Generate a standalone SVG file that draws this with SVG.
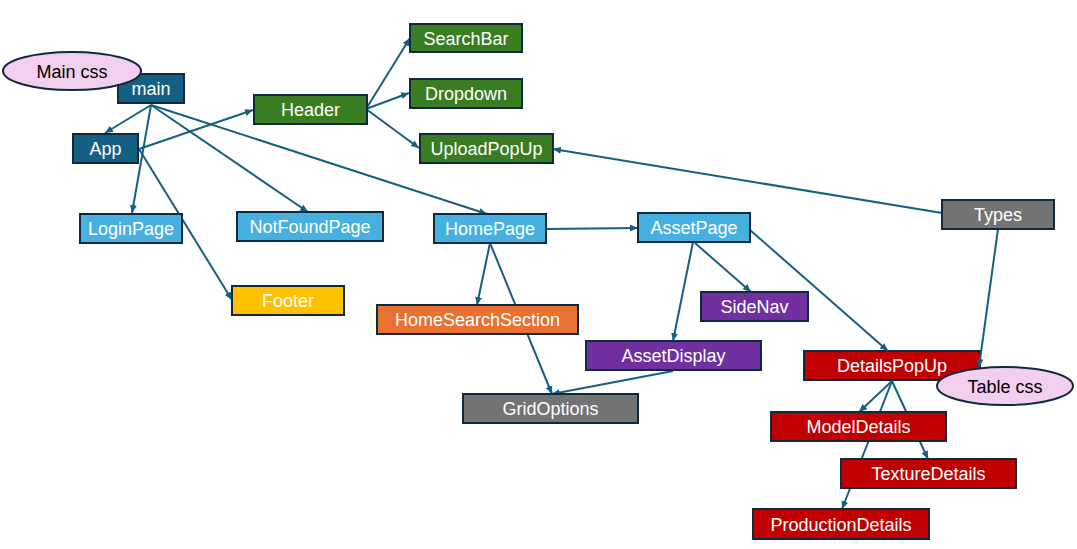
<svg xmlns="http://www.w3.org/2000/svg" width="1077" height="549" viewBox="0 0 1077 549">
<defs>
<marker id="ah" markerUnits="userSpaceOnUse" markerWidth="9" markerHeight="8" refX="8" refY="3.5" orient="auto">
<path d="M0,0 L8,3.5 L0,7 z" fill="#156082"/>
</marker>
<style>
.n rect{stroke:#0e2a3c;stroke-width:2}
.n text{font-family:"Liberation Sans",Arial,sans-serif;font-size:18px;fill:#fff;text-anchor:middle}
.e ellipse{fill:#f2cfee;stroke:#0e2a3c;stroke-width:2}
.e text{font-family:"Liberation Sans",Arial,sans-serif;font-size:18px;fill:#000;text-anchor:middle}
.c line{stroke:#156082;stroke-width:2;fill:none}
.a{marker-end:url(#ah)}
.dk{fill:#156082}.lb{fill:#46b1e1}.gr{fill:#3a7c22}.yl{fill:#ffc000}.or{fill:#e97132}.pu{fill:#7030a0}.gy{fill:#737373}.rd{fill:#c00000}
</style>
</defs>
<rect width="1077" height="549" fill="#fff"/>
<g id="DetailsPopUp" class="n"><rect class="rd" x="804" y="351" width="176" height="29"/><text x="892" y="372">DetailsPopUp</text></g>
<g id="connectors" class="c">
<line class="a" x1="151" y1="105" x2="105" y2="133"/>
<line class="a" x1="151" y1="105" x2="132" y2="213"/>
<line class="a" x1="151" y1="105" x2="308" y2="212"/>
<line class="a" x1="151" y1="105" x2="487" y2="214"/>
<line class="a" x1="139" y1="149" x2="253" y2="110"/>
<line class="a" x1="139" y1="149" x2="232" y2="300"/>
<line class="a" x1="366" y1="109" x2="410" y2="38"/>
<line class="a" x1="366" y1="109" x2="409" y2="93"/>
<line class="a" x1="366" y1="109" x2="419" y2="148"/>
<line class="a" x1="942" y1="213" x2="553" y2="149"/>
<line class="a" x1="998" y1="229" x2="979" y2="367"/>
<line class="a" x1="546" y1="229" x2="638" y2="228"/>
<line class="a" x1="490" y1="243" x2="477" y2="305"/>
<line class="a" x1="490" y1="243" x2="552" y2="394"/>
<line class="a" x1="673" y1="371" x2="552" y2="394"/>
<line class="a" x1="695" y1="243" x2="751" y2="292"/>
<line class="a" x1="693" y1="242" x2="673" y2="341"/>
<line class="a" x1="750" y1="230" x2="888" y2="351"/>
<line class="a" x1="892" y1="381" x2="859" y2="412"/>
<line class="a" x1="892" y1="381" x2="842" y2="509"/>
<line class="a" x1="892" y1="381" x2="928" y2="459"/>
</g>
<g id="main" class="n"><rect class="dk" x="118" y="74" width="66" height="29"/><text x="151" y="95">main</text></g>
<g id="MainCss" class="e"><ellipse cx="72" cy="71" rx="69" ry="19"/><text x="72" y="77.5">Main css</text></g>
<g id="App" class="n"><rect class="dk" x="73" y="134" width="65" height="29"/><text x="105.5" y="155">App</text></g>
<g id="Header" class="n"><rect class="gr" x="254" y="95" width="113" height="29"/><text x="310.5" y="116">Header</text></g>
<g id="SearchBar" class="n"><rect class="gr" x="410" y="24" width="112" height="28"/><text x="466" y="44.5">SearchBar</text></g>
<g id="Dropdown" class="n"><rect class="gr" x="410" y="79" width="112" height="29"/><text x="466" y="100">Dropdown</text></g>
<g id="UploadPopUp" class="n"><rect class="gr" x="420" y="134" width="133" height="29"/><text x="486.5" y="155">UploadPopUp</text></g>
<g id="LoginPage" class="n"><rect class="lb" x="80" y="214" width="102" height="29"/><text x="131" y="235">LoginPage</text></g>
<g id="NotFoundPage" class="n"><rect class="lb" x="237" y="212" width="146" height="29"/><text x="310" y="233">NotFoundPage</text></g>
<g id="Footer" class="n"><rect class="yl" x="232" y="286" width="112" height="29"/><text x="288" y="307">Footer</text></g>
<g id="HomePage" class="n"><rect class="lb" x="434" y="214" width="112" height="29"/><text x="490" y="235">HomePage</text></g>
<g id="AssetPage" class="n"><rect class="lb" x="638" y="213" width="112" height="29"/><text x="694" y="234">AssetPage</text></g>
<g id="HomeSearchSection" class="n"><rect class="or" x="377" y="305" width="201" height="29"/><text x="477.5" y="326">HomeSearchSection</text></g>
<g id="SideNav" class="n"><rect class="pu" x="701" y="292" width="107" height="29"/><text x="754.5" y="313">SideNav</text></g>
<g id="AssetDisplay" class="n"><rect class="pu" x="586" y="341" width="175" height="29"/><text x="673.5" y="362">AssetDisplay</text></g>
<g id="GridOptions" class="n"><rect class="gy" x="463" y="394" width="175" height="29"/><text x="550.5" y="415">GridOptions</text></g>
<g id="Types" class="n"><rect class="gy" x="942" y="200" width="112" height="29"/><text x="998" y="221">Types</text></g>
<g id="TableCss" class="e"><ellipse cx="1005" cy="386" rx="68" ry="19"/><text x="1005" y="392.5">Table css</text></g>
<g id="ModelDetails" class="n"><rect class="rd" x="771" y="412" width="175" height="29"/><text x="858.5" y="433">ModelDetails</text></g>
<g id="TextureDetails" class="n"><rect class="rd" x="841" y="459" width="175" height="29"/><text x="928.5" y="480">TextureDetails</text></g>
<g id="ProductionDetails" class="n"><rect class="rd" x="753" y="509" width="176" height="30"/><text x="841" y="530.5">ProductionDetails</text></g>
</svg>
